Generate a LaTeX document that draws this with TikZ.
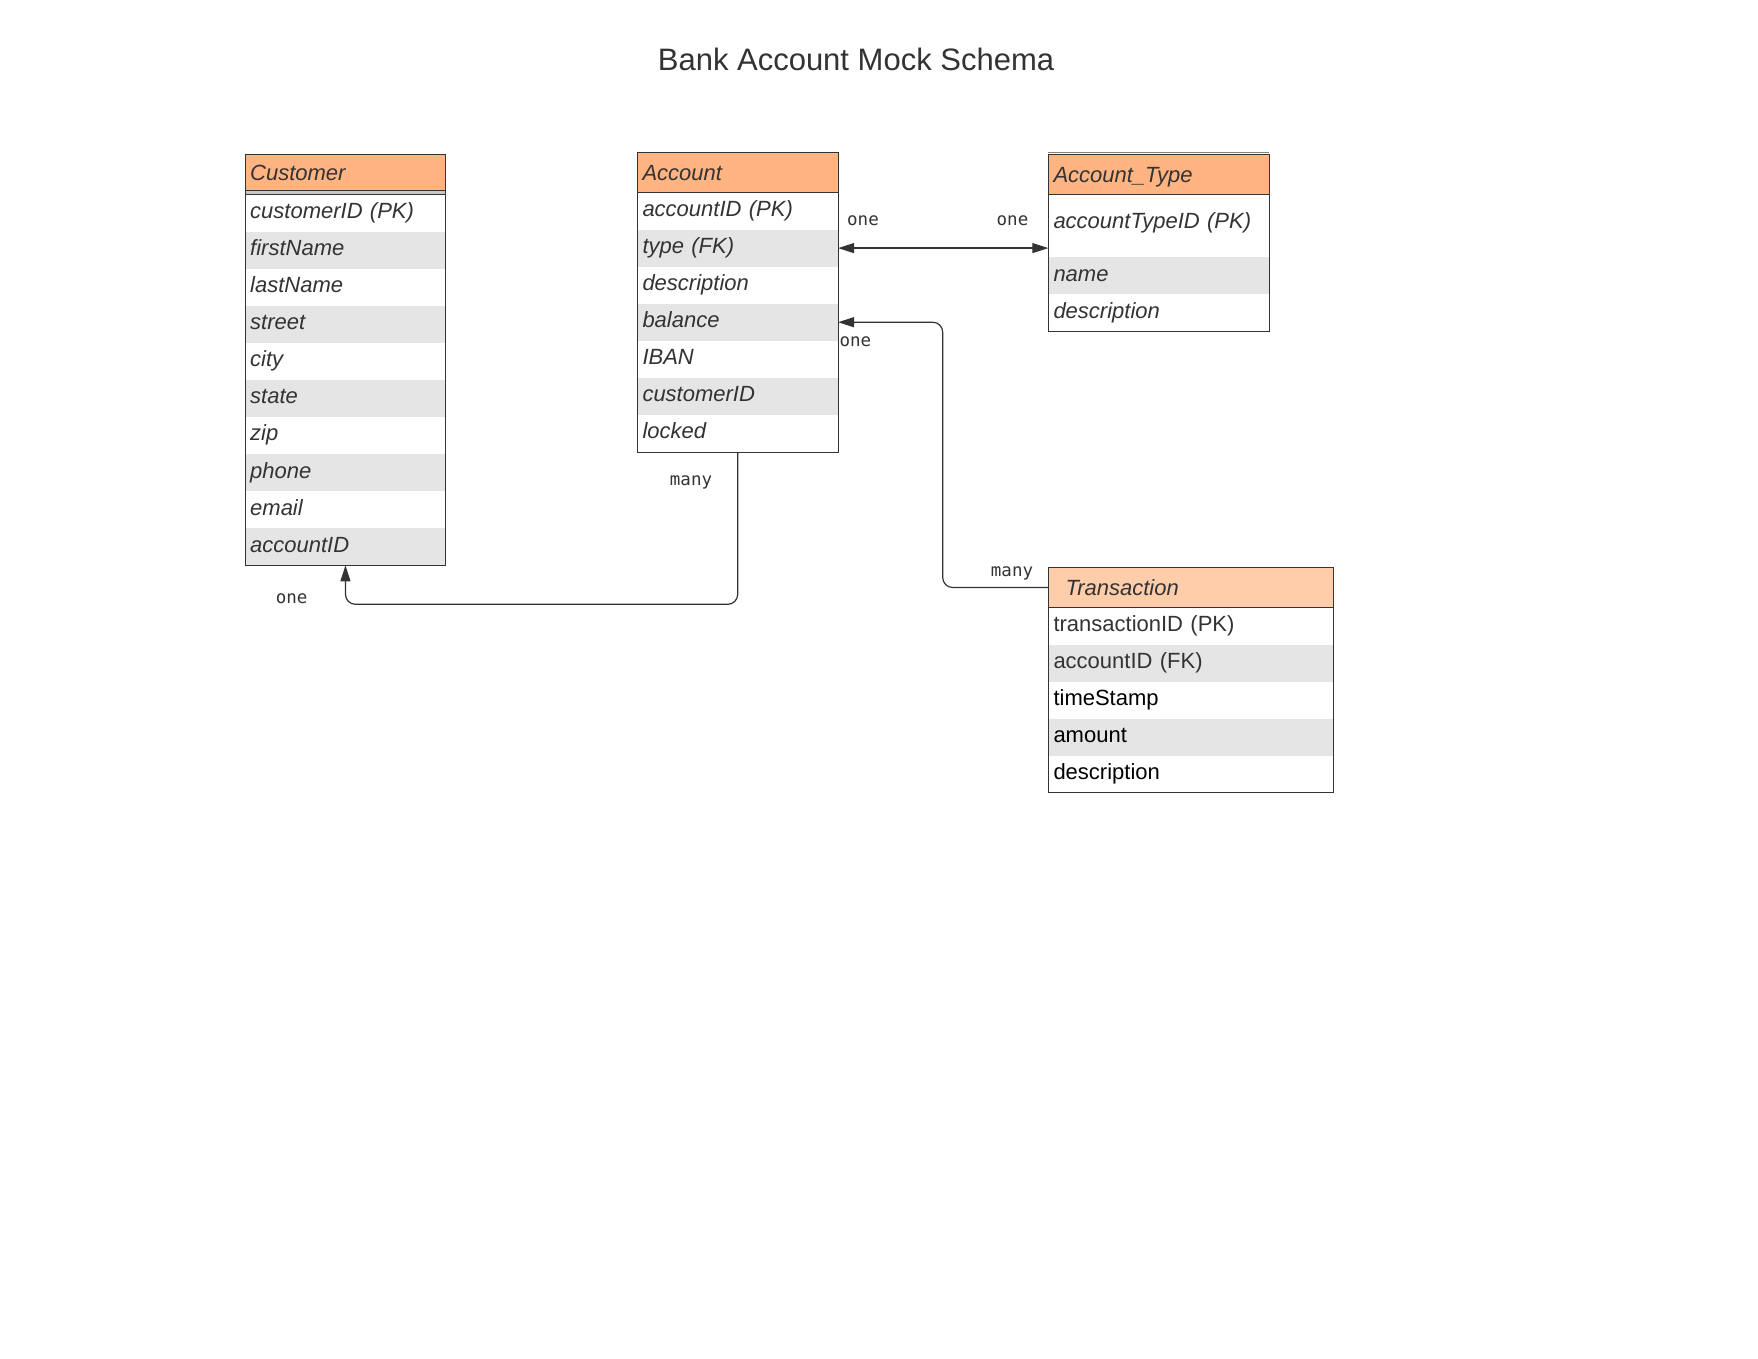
\documentclass[tikz,border=0pt]{standalone}
\usepackage{fontspec}
\setmainfont{Liberation Sans}
\newfontfamily\labfont{DejaVu Sans Mono}
\usetikzlibrary{arrows.meta}
\definecolor{ink}{HTML}{333333}
\definecolor{headorange}{HTML}{FFB482}
\definecolor{headlight}{HTML}{FFCDAA}
\definecolor{rowgray}{HTML}{E5E5E5}
\definecolor{sepgray}{HTML}{C8C8C8}
\begin{document}
\begin{tikzpicture}[x=1pt,y=-1pt,
  ertip/.tip={Triangle[length=16pt,width=10pt]},
  cell/.style={rectangle, draw=none, anchor=north west, inner xsep=5pt, inner ysep=0pt,
    text height=16pt, text depth=5pt, align=left, text=ink,
    font=\fontsize{22}{26}\selectfont\itshape},
  headcell/.style={cell, text depth=1pt},
  plaincell/.style={cell, font=\fontsize{22}{26}\selectfont},
  frame/.style={draw=ink, line width=1pt},
  conn/.style={draw=ink, line width=1.2pt, rounded corners=10pt},
  lab/.style={anchor=base, inner sep=0pt, text=ink, font=\labfont\fontsize{17.5}{20}\selectfont},
]
\useasboundingbox[fill=white] (0,0) rectangle (1758,1358);

% title
\node[anchor=base, inner sep=0pt, text=ink, font=\fontsize{31}{36}\selectfont] (title) at (856,70) {Bank Account Mock Schema};

% ---------------- Customer ----------------
\node[headcell, fill=headorange, text width=190.5pt, minimum height=36pt] (cust-h) at (245,154.5) {Customer};
\foreach \i/\t/\f in {1/{customerID (PK)}/white, 2/firstName/rowgray, 3/lastName/white,
  4/street/rowgray, 5/city/white, 6/state/rowgray, 7/zip/white, 8/phone/rowgray,
  9/email/white, 10/accountID/rowgray}
  \node[cell, fill=\f, text width=190.5pt, minimum height=37.07pt] (cust-\i) at (245,{194.3+(\i-1)*37.07}) {\t};
\fill[sepgray] (245,190.5) rectangle (445.5,194.3);
\draw[frame] (cust-h.north west) rectangle (cust-10.south east);
\draw[frame] (cust-h.south west) -- (cust-h.south east);
\draw[frame] (cust-1.north west) -- (cust-1.north east);

% ---------------- Account ----------------
\node[headcell, fill=headorange, text width=190.4pt, minimum height=40pt] (acc-h) at (637.3,152.3) {Account};
\foreach \i/\t/\f in {1/{accountID (PK)}/white, 2/{type (FK)}/rowgray, 3/description/white,
  4/balance/rowgray, 5/IBAN/white, 6/customerID/rowgray, 7/locked/white}
  \node[cell, fill=\f, text width=190.4pt, minimum height=37.06pt] (acc-\i) at (637.3,{192.3+(\i-1)*37.06}) {\t};
\draw[frame] (acc-h.north west) rectangle (acc-7.south east);
\draw[frame] (acc-h.south west) -- (acc-h.south east);

% ---------------- Account_Type ----------------
\node[headcell, fill=headorange, text width=211pt, minimum height=39.5pt] (at-h) at (1048.3,154.8) {Account\_Type};
\node[cell, fill=white, text width=211pt, minimum height=62.4pt, text depth=10pt] (at-1) at (1048.3,194.3) {accountTypeID (PK)};
\node[cell, fill=rowgray, text width=211pt, minimum height=37.3pt] (at-2) at (1048.3,256.7) {name};
\node[cell, fill=white, text width=211pt, minimum height=36.7pt] (at-3) at (1048.3,294) {description};
\draw[frame] (at-h.north west) rectangle (at-3.south east);
\draw[draw=gray, line width=1pt] (1048.3,152.3) -- (1269.3,152.3);
\draw[frame] (at-h.south west) -- (at-h.south east);

% ---------------- Transaction ----------------
\node[headcell, fill=headlight, text width=251pt, inner xsep=17pt, minimum height=40pt] (tr-h) at (1048.3,567.3) {Transaction};
\node[plaincell, fill=white, text width=275pt, minimum height=37pt] (tr-1) at (1048.3,607.3) {transactionID (PK)};
\node[plaincell, fill=rowgray, text width=275pt, minimum height=37pt] (tr-2) at (1048.3,644.3) {accountID (FK)};
\node[plaincell, fill=white, text=black, text width=275pt, minimum height=37pt] (tr-3) at (1048.3,681.3) {timeStamp};
\node[plaincell, fill=rowgray, text=black, text width=275pt, minimum height=37pt] (tr-4) at (1048.3,718.3) {amount};
\node[plaincell, fill=white, text=black, text width=275pt, minimum height=37pt] (tr-5) at (1048.3,755.3) {description};
\draw[frame] (tr-h.north west) rectangle (tr-5.south east);
\draw[frame] (tr-h.south west) -- (tr-h.south east);

% ---------------- connectors ----------------
\draw[conn, ertip-ertip] (acc-2.east) -- (acc-2.east -| at-h.west);

\coordinate (trbend) at (942.7,0);
\draw[conn, -ertip] (tr-h.west) -| (trbend |- acc-4.east) -- (acc-4.east);

\coordinate (busy) at (0,604.3);
\draw[conn, -ertip] (acc-7.south) |- (cust-10.south |- busy) -- (cust-10.south);

% ---------------- labels ----------------
\node[lab] (l-one1) at (863,225) {one};
\node[lab] (l-one2) at (1012.5,225) {one};
\node[lab] (l-one3) at (855.3,346) {one};
\node[lab] (l-many1) at (691,485.5) {many};
\node[lab] (l-one4) at (291.7,603.3) {one};
\node[lab] (l-many2) at (1012,576.5) {many};
\end{tikzpicture}
\end{document}
